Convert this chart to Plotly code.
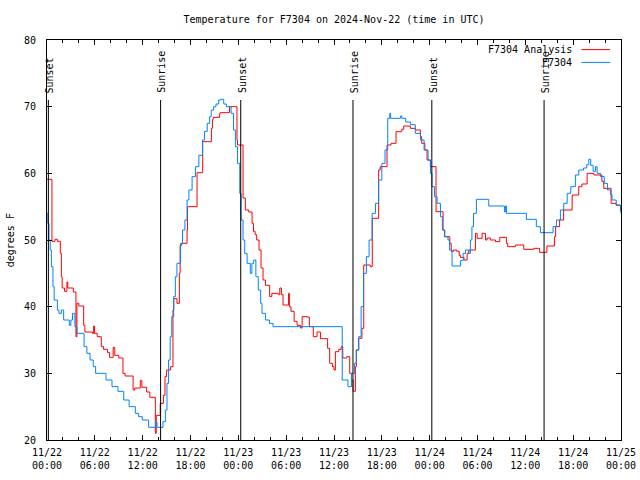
import plotly.graph_objects as go
import pandas as pd

START = pd.Timestamp("2024-11-22 00:00")

# F7304 Analysis (red) - hours since 11/22 00:00 UTC, degrees F
analysis_hours = [0.0, 0.62, 1.0, 1.3, 1.67, 1.8, 1.9, 2.2, 2.5, 2.6, 3.3, 3.63, 3.75, 4.0, 4.6, 4.75,
                  5.7, 5.85, 5.95, 6.3, 6.81, 7.1, 7.6, 7.85, 8.3, 8.5, 9.0, 9.53, 9.8, 10.8, 11.0,
                  11.7, 11.9, 12.5, 12.9, 13.59, 13.7, 14.2, 14.6, 14.8, 15.0, 15.5, 15.8, 15.9,
                  16.3, 16.6, 16.7, 16.9, 17.57, 17.62, 18.82, 19.53, 20.62, 20.75, 20.85, 21.66,
                  21.74, 22.9, 23.83, 23.9, 24.59, 24.88, 25.3, 25.72, 25.9, 26.1, 26.3, 26.6,
                  26.85, 27.1, 27.4, 27.93, 28.2, 29.0, 29.2, 29.4, 29.61, 30.3, 30.4, 30.6, 31.0,
                  31.37, 31.8, 32.0, 32.7, 32.91, 33.4, 33.87, 34.3, 34.7, 35.2, 35.46, 35.8, 36.0,
                  36.17, 36.6, 36.9, 37.1, 37.6, 37.97, 38.2, 38.39, 38.68, 38.8, 39.1, 39.5, 39.73,
                  40.55, 40.8, 41.6, 41.8, 42.65, 43.15, 43.78, 44.5, 44.74, 45.58, 46.2, 46.84,
                  47.0, 47.4, 47.67, 48.09, 48.8, 49.68, 49.9, 50.52, 50.7, 51.0, 51.4, 51.7, 51.86,
                  52.3, 52.7, 52.9, 53.74, 53.95, 54.58, 55.0, 55.2, 55.62, 56.25, 56.79, 57.62,
                  57.79, 58.75, 59.8, 61.05, 61.8, 62.7, 63.65, 63.8, 64.3, 64.8, 65.87, 66.7, 67.1,
                  67.75, 68.6, 69.6, 69.84, 70.76, 71.4, 71.93, 72.0]
analysis_temp = [59.1, 49.8, 50.1, 49.8, 48.0, 44.5, 42.8, 42.3, 43.7, 42.8, 42.2, 35.5, 40.5, 40.1, 37.2, 36.2,
                 36.0, 37.1, 36.0, 35.5, 34.0, 33.6, 33.1, 32.4, 33.9, 32.7, 32.3, 30.0, 29.6, 27.5, 27.8,
                 28.9, 27.9, 27.2, 26.4, 21.0, 23.7, 25.5, 26.7, 29.5, 30.5, 31.0, 39.5, 41.2,
                 40.5, 45.0, 49.2, 49.5, 51.5, 55.0, 60.1, 64.75, 66.75, 68.1, 68.4, 69.0,
                 69.1, 70.0, 65.0, 64.25, 56.3, 54.5, 54.2, 52.5, 51.3, 50.8, 50.0, 48.5,
                 45.8, 44.0, 43.2, 41.5, 42.0, 41.8, 42.8, 41.8, 40.25, 42.0, 40.0, 39.3, 37.8,
                 37.2, 36.8, 38.5, 38.4, 37.0, 35.5, 36.2, 35.2, 35.2, 33.75, 31.5, 31.0, 30.5,
                 33.25, 33.6, 34.0, 32.3, 32.5, 30.0, 29.0, 27.3, 31.0, 33.5, 35.25, 36.75, 46.25,
                 46.0, 53.25, 60.5, 61.0, 64.25, 64.5, 66.25, 66.6, 67.1, 66.75, 66.5, 65.5,
                 64.5, 63.5, 62.0, 61.0, 54.25, 51.5, 50.5, 49.5, 48.3, 48.5, 48.3, 47.7, 47.4,
                 47.0, 48.0, 48.5, 51.0, 50.25, 51.0, 50.0, 50.3, 50.0, 49.75, 50.4, 49.5,
                 49.0, 49.25, 48.6, 48.75, 48.15, 49.1, 50.5, 52.0, 53.0, 54.5, 56.75, 58.0, 58.4,
                 60.0, 59.75, 58.8, 57.75, 55.5, 55.2, 54.5, 54.5]

# F7304 observations (blue)
obs_hours = [0.0, 0.1, 0.25, 0.4, 0.55, 0.75, 0.9, 1.3, 1.5, 1.8, 2.09, 2.8, 3.0, 3.2, 3.5, 3.76,
             4.65, 5.0, 5.4, 5.8, 6.1, 6.69, 7.4, 8.15, 8.9, 9.62, 10.3, 11.08, 11.5, 11.95, 12.75,
             13.6, 13.8, 14.55, 14.85, 15.05, 15.25, 15.45, 15.65, 15.89, 16.1, 16.3, 16.75,
             17.0, 17.3, 17.57, 17.8, 18.2, 18.62, 19.05, 19.5, 19.75, 20.1, 20.4, 20.6, 20.9,
             21.2, 21.54, 21.8, 22.17, 22.5, 23.09, 23.4, 23.63, 23.9, 24.18, 24.35, 24.59,
             24.8, 25.1, 25.5, 25.7, 25.93, 26.2, 26.5, 26.8, 26.97, 27.4, 27.9, 28.35, 37.03,
             37.75, 38.2, 38.56, 38.8, 39.1, 39.4, 39.7, 40.06, 40.4, 40.78, 41.2, 41.6, 42.0,
             42.4, 42.74, 43.0, 43.1, 44.33, 44.5, 45.0, 45.58, 46.2, 46.84, 47.3, 47.8, 48.1,
             48.3, 48.6, 48.93, 49.35, 49.6, 49.85, 50.3, 50.5, 50.81, 51.86, 52.2, 52.5, 52.9,
             53.11, 53.3, 53.5, 53.86, 55.2, 55.41, 57.2, 57.4, 57.5, 57.62, 60.13, 61.38,
             61.89, 63.48, 63.9, 64.4, 64.82, 65.25, 65.7, 66.28, 66.7, 67.3, 67.7, 67.96,
             68.2, 68.5, 68.8, 69.0, 69.42, 69.9, 70.3, 70.7, 70.88, 71.4, 71.93, 72.0]
obs_temp = [54.0, 52.5, 50.0, 48.5, 46.0, 43.0, 41.0, 39.5, 39.0, 39.5, 38.0, 37.2, 38.0, 39.0, 37.0, 36.0,
            34.0, 33.0, 32.0, 31.0, 30.0, 30.0, 29.0, 28.0, 27.3, 26.0, 25.0, 24.0, 23.5, 23.0, 21.9,
            22.7, 21.9, 22.75, 24.5, 28.5, 32.0, 35.5, 38.5, 41.5, 44.5, 46.5, 49.5,
            51.5, 53.0, 56.0, 57.5, 59.5, 61.0, 62.7, 65.0, 66.3, 67.5, 68.5, 69.5, 70.0,
            70.4, 71.0, 71.1, 70.4, 70.0, 69.0, 66.5, 64.0, 61.5, 57.0, 53.0, 50.0,
            48.0, 46.5, 45.0, 46.5, 47.0, 44.5, 42.5, 40.5, 39.0, 38.0, 37.5, 37.0, 29.0,
            28.0, 30.0, 31.5, 33.5, 35.5, 40.0, 45.0, 47.5, 50.0, 54.0, 55.5, 59.0, 61.5,
            63.5, 68.25, 69.0, 68.25, 68.6, 68.25, 67.7, 67.3, 66.0, 65.0, 63.5, 62.0, 60.0,
            58.0, 56.5, 55.5, 53.5, 51.5, 50.5, 50.0, 48.5, 46.1, 46.9, 48.0, 48.5, 48.0,
            50.0, 52.0, 54.0, 56.1, 56.1, 55.1, 55.1, 54.2, 55.1, 54.0, 53.1, 52.0,
            51.1, 52.0, 53.0, 54.5, 55.5, 57.0, 58.0, 59.75, 60.5, 60.8, 61.3, 62.1,
            61.2, 60.3, 61.0, 60.0, 59.5, 58.5, 57.5, 56.8, 56.0, 55.25, 54.3, 54.0]

sun_hours = [0.17, 14.25, 24.3, 38.38, 48.27, 62.35]
sun_labels = ["Sunset", "Sunrise", "Sunset", "Sunrise", "Sunset", "Sunrise"]

tick_hours = [0, 6, 12, 18, 24, 30, 36, 42, 48, 54, 60, 66, 72]
tick_labels = ["11/22<br>00:00", "11/22<br>06:00", "11/22<br>12:00", "11/22<br>18:00",
               "11/23<br>00:00", "11/23<br>06:00", "11/23<br>12:00", "11/23<br>18:00",
               "11/24<br>00:00", "11/24<br>06:00", "11/24<br>12:00", "11/24<br>18:00",
               "11/25<br>00:00"]

series_names = ["F7304 Analysis", "F7304"]
series_colors = ["#ff0000", "#0084ff"]


def to_time(hours):
    return [START + pd.Timedelta(hours=h) for h in hours]


FONT = "DejaVu Sans Mono"
fig = go.Figure()
fig.add_trace(go.Scatter(x=to_time(analysis_hours), y=analysis_temp, mode="lines",
                         line=dict(color=series_colors[0], width=1, shape="hv"),
                         name=series_names[0], showlegend=False))
fig.add_trace(go.Scatter(x=to_time(obs_hours), y=obs_temp, mode="lines",
                         line=dict(color=series_colors[1], width=1, shape="hv"),
                         name=series_names[1], showlegend=False))

shapes = []
annotations = []
for h, lab in zip(to_time(sun_hours), sun_labels):
    shapes.append(dict(type="line", xref="x", yref="paper", x0=h, x1=h, y0=0, y1=0.85,
                       line=dict(color="black", width=1)))
    annotations.append(dict(x=h, xref="x", xshift=1, y=0.862, yref="paper", text=lab, textangle=-90,
                            showarrow=False, xanchor="center", yanchor="bottom",
                            font=dict(family=FONT, size=10, color="black")))

# legend (gnuplot style: text right, sample line after)
leg_y = [0.976, 0.944]
for name, color, yy in zip(series_names, series_colors, leg_y):
    annotations.append(dict(x=0.918, xref="paper", y=yy, yref="paper", text=name,
                            showarrow=False, xanchor="right", yanchor="middle",
                            font=dict(family=FONT, size=10, color="black")))
    shapes.append(dict(type="line", xref="paper", yref="paper", x0=0.931, x1=0.981,
                       y0=yy, y1=yy, line=dict(color=color, width=1)))

annotations.append(dict(x=-0.064, xref="paper", y=0.5, yref="paper", text="degrees F",
                        textangle=-90, showarrow=False, xanchor="center", yanchor="middle",
                        font=dict(family=FONT, size=10, color="black")))

fig.update_layout(
    width=640, height=480,
    margin=dict(l=47, r=19, t=40, b=40, autoexpand=False),
    paper_bgcolor="white", plot_bgcolor="white",
    font=dict(family=FONT, size=10, color="black"),
    title=dict(text="Temperature for F7304 on 2024-Nov-22 (time in UTC)",
               x=0.5, xref="paper", xanchor="center",
               y=1 - 19 / 480, yref="container", yanchor="middle",
               font=dict(family=FONT, size=10, color="black")),
    shapes=shapes, annotations=annotations, showlegend=False,
)
fig.update_xaxes(type="date", range=[START, START + pd.Timedelta(hours=72)],
                 tickmode="array", tickvals=to_time(tick_hours), ticktext=tick_labels,
                 ticks="inside", ticklen=5, tickcolor="black", showline=True, linecolor="black",
                 linewidth=1, mirror="allticks", showgrid=False, zeroline=False, automargin=False,
                 ticklabelstandoff=3,
                 minor=dict(ticks="inside", ticklen=3, tickcolor="black", tickmode="linear",
                            tick0=START, dtick=2 * 3600 * 1000, showgrid=False),
                 tickfont=dict(family=FONT, size=10, color="black"))
fig.update_yaxes(range=[20, 80], tickmode="linear", tick0=20, dtick=10,
                 ticks="inside", ticklen=5, tickcolor="black", showline=True, linecolor="black",
                 linewidth=1, mirror="allticks", showgrid=False, zeroline=False, automargin=False,
                 ticklabelstandoff=8,
                 tickfont=dict(family=FONT, size=10, color="black"))

fig.write_html("out.html", config={"displayModeBar": False},
               post_script="document.body.style.margin='0';document.body.style.padding='0';")
